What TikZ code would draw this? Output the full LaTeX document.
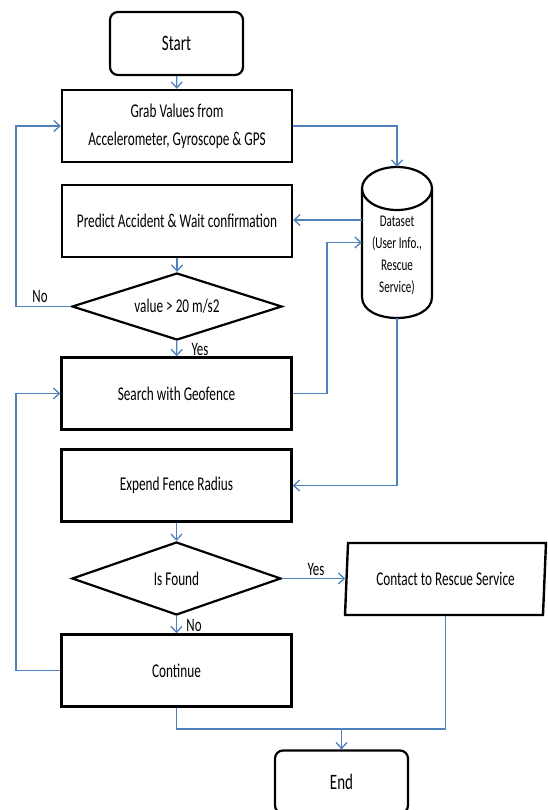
\documentclass[tikz,border=0pt]{standalone}
\usepackage{fontspec}
\setmainfont{Carlito}[FakeStretch=0.68]
\usetikzlibrary{arrows.meta,shapes.geometric,calc}
\definecolor{flow}{RGB}{79,129,189}
\tikzset{
  box/.style={draw=black, line width=2.4pt, minimum width=230pt, minimum height=72pt, inner sep=0pt,
    font=\fontsize{19.5}{28}\selectfont, align=center},
  term/.style={draw=black, line width=2.2pt, rounded corners=8pt, minimum width=133pt, minimum height=63pt,
    inner sep=0pt, font=\fontsize{22}{26}\selectfont},
  decision/.style={diamond, draw=black, line width=2.2pt, inner sep=0pt, shape aspect=3,
    font=\fontsize{19.5}{24}\selectfont},
  iobox/.style={trapezium, trapezium left angle=81, trapezium right angle=99, trapezium stretches=true,
    draw=black, line width=2.4pt, inner sep=0pt, minimum width=201pt, minimum height=72pt,
    font=\fontsize{19.5}{24}\selectfont},
  dbline/.style={draw=black, line width=2.2pt},
  dbtext/.style={inner sep=0pt, align=center, font=\fontsize{16.3}{22}\selectfont},
  conn/.style={draw=flow, line width=1.3pt, -{Straight Barb[length=6pt,width=11pt]}},
  flowline/.style={draw=flow, line width=1.3pt},
  lbl/.style={inner sep=0pt, font=\fontsize{19}{22}\selectfont},
}
\begin{document}
\begin{tikzpicture}[x=1pt, y=-1pt]
\useasboundingbox (0,0) rectangle (547,810);
% nodes
\node[term] (start) at (176.5,43.5) {Start};
\node[box] (grab) at (177,126) {Grab Values from\\Accelerometer, Gyroscope \& GPS};
\node[box] (predict) at (177,221) {Predict Accident \& Wait confirmation};
\node[decision, minimum width=210pt, minimum height=67pt] (d1) at (177,306.5) {value > 20 m/s2};
\node[box] (search) at (176.5,393.5) {Search with Geofence};
\node[box] (expend) at (176.5,485.5) {Expend Fence Radius};
\node[decision, minimum width=209pt, minimum height=73pt] (d2) at (176.5,578.5) {Is Found};
\node[iobox] (contact) at (445.5,579) {Contact to Rescue Service};
\node[box] (cont) at (176.5,670.5) {Continue};
\node[term] (end) at (341.5,782) {End};
% database cylinder
\node[minimum width=70pt, minimum height=151pt, inner sep=0pt] (db) at (397,242.5) {};
\draw[dbline] (397,188.5) ellipse [x radius=35pt, y radius=21.5pt];
\draw[dbline] (362,188.5) -- (362,297) .. controls (362,325) and (432,325) .. (432,297) -- (432,188.5);
\node[dbtext] (dbt) at (397,255) {Dataset\\(User Info.,\\Rescue\\Service)};
% helper coordinates
\coordinate (L) at (16,0);
\coordinate (M) at (327,0);
\coordinate (J) at (341.5,729);
\coordinate (P) at ([yshift=22.5pt]db.west);
% connectors
\draw[conn] (start) -- (grab);
\draw[conn] (grab.east) -| (db.north);
\draw[conn] (P) -- (predict.east |- P);
\draw[conn] (predict) -- (d1);
\draw[conn] (d1.west) -- (d1.west -| L) |- (grab.west);
\draw[conn] (d1) -- (search);
\draw[conn] (search.east) -- (search.east -| M) |- (db.west);
\draw[conn] (db.south) |- (expend.east);
\draw[conn] (expend) -- (d2);
\draw[conn] (d2.east) -- (d2.east -| contact.west);
\draw[conn] (d2) -- (cont);
\draw[conn] (cont.west) -- (cont.west -| L) |- (search.west);
\draw[flowline] (cont.south) |- (J) -| (contact.south);
\draw[conn] (J) -- (end);
% labels
\node[lbl] (no1) at (40,296) {No};
\node[lbl] (yes1) at (200,349) {Yes};
\node[lbl] (yes2) at (316,569) {Yes};
\node[lbl] (no2) at (194,625) {No};
\end{tikzpicture}
\end{document}
